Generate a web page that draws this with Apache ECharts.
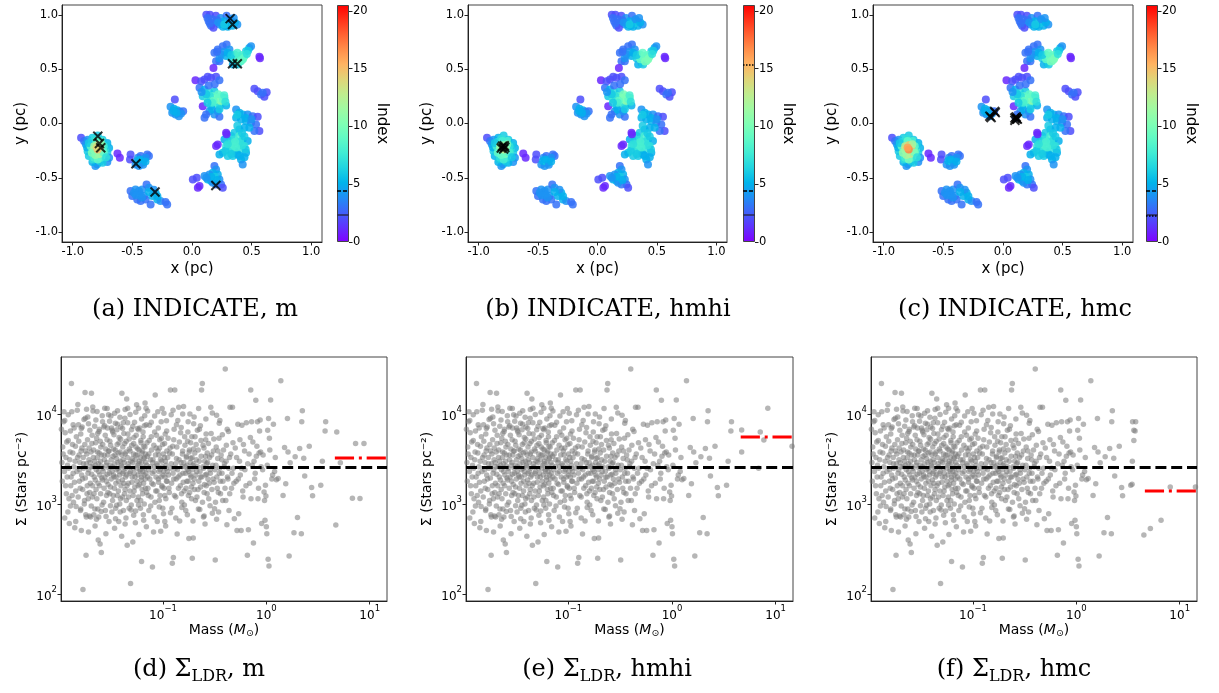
<!DOCTYPE html>
<html><head><meta charset="utf-8">
<script src="https://cdn.jsdelivr.net/npm/echarts@6/dist/echarts.min.js"></script>
<style>html,body{margin:0;padding:0;background:#fff}#c{width:1219px;height:693px}</style>
</head><body><div id="c"></div><script>
// ---------------- DATA ----------------
// Star positions (pc) with INDICATE index for panels a (m), b (hmhi), c (hmc): [x, y, ia, ib, ic]
const clusterLeft = [
 [-0.93,-0.13,2,2,2],[-0.905,-0.16,3,3,3],[-0.89,-0.19,4,4,4],[-0.875,-0.15,4,4,4],[-0.835,-0.13,6,5,6],[-0.79,-0.11,6,6,6],
 [-0.75,-0.15,6,6,6],[-0.71,-0.18,5,5,5],[-0.695,-0.225,5,5,5],[-0.71,-0.27,6,6,6],[-0.695,-0.315,4,4,4],[-0.71,-0.355,4,4,4],
 [-0.75,-0.36,6,5,6],[-0.795,-0.375,5,5,5],[-0.81,-0.39,4,4,4],[-0.835,-0.355,5,5,5],[-0.865,-0.30,6,5,6],[-0.875,-0.255,6,6,6],
 [-0.86,-0.23,8,7,8],[-0.73,-0.24,7,7,8],[-0.77,-0.35,6,6,6],[-0.83,-0.33,7,6,7],[-0.76,-0.16,8,8,8],[-0.84,-0.17,7,7,7],
 [-0.72,-0.20,6,6,6],[-0.88,-0.22,5,5,5],[-0.81,-0.14,7,7,7],
 [-0.85,-0.21,9,8,9],[-0.82,-0.24,12,10,13],[-0.78,-0.27,11,10,12],[-0.75,-0.24,9,8,10],[-0.765,-0.315,8,7,8],[-0.82,-0.315,8,7,8],
 [-0.74,-0.21,8,7,9],[-0.865,-0.18,6,6,6],[-0.80,-0.16,9,8,9],[-0.79,-0.33,9,8,10],
 [-0.79,-0.20,14,12,15],[-0.80,-0.25,15,12,16],[-0.77,-0.23,14,12,15],[-0.82,-0.21,12,11,13],[-0.78,-0.28,12,10,13],
 [-0.76,-0.19,11,10,12],[-0.81,-0.29,11,9,12],[-0.74,-0.27,9,8,10],[-0.84,-0.27,10,9,11],[-0.72,-0.31,7,6,7],
 [-0.79,-0.24,15,13,17],[-0.80,-0.22,14,12,16]
];
const clusterSmallWest = [
 [-0.625,-0.275,1,1,1],[-0.605,-0.315,1,1,1],[-0.515,-0.285,2,2,2],[-0.52,-0.33,2,2,2]
];
const clusterMidWest = [
 [-0.473,-0.377,4,4,4],[-0.453,-0.316,4,4,4],[-0.431,-0.30,3,3,3],[-0.403,-0.331,5,5,5],[-0.375,-0.285,3,3,3],[-0.361,-0.30,3,3,3],
 [-0.417,-0.362,5,5,5],[-0.445,-0.392,4,4,4],[-0.459,-0.346,5,5,5],[-0.389,-0.316,4,4,4],[-0.43,-0.35,6,6,6],[-0.41,-0.38,4,4,4],
 [-0.44,-0.33,5,5,5],[-0.39,-0.35,5,5,5]
];
const clusterSouthWest = [
 [-0.515,-0.622,3,3,3],[-0.501,-0.668,3,3,3],[-0.473,-0.607,4,4,4],[-0.445,-0.622,4,4,4],[-0.417,-0.607,4,4,4],[-0.381,-0.561,3,3,3],
 [-0.361,-0.591,4,4,4],[-0.403,-0.668,4,4,4],[-0.431,-0.714,3,3,3],[-0.459,-0.699,3,3,3],[-0.389,-0.699,3,3,3],[-0.347,-0.744,3,3,3],
 [-0.305,-0.637,5,5,5],[-0.291,-0.699,5,5,5],[-0.264,-0.714,4,4,4],[-0.222,-0.723,3,3,3],[-0.208,-0.744,3,3,3],[-0.333,-0.668,5,5,5],
 [-0.487,-0.637,4,4,4],[-0.44,-0.65,4,4,4],[-0.32,-0.61,4,4,4],[-0.47,-0.66,4,4,4],[-0.42,-0.68,4,4,4],[-0.36,-0.63,5,5,5],[-0.29,-0.67,5,5,5]
];
const clusterCentre = [
 [-0.144,0.221,2,2,2],[-0.18,0.153,4,4,4],[-0.152,0.135,5,5,5],[-0.124,0.123,5,5,5],[-0.102,0.11,4,4,4],[-0.074,0.113,3,3,3],
 [-0.138,0.083,4,4,4],[-0.11,0.067,4,4,4],[-0.166,0.098,4,4,4],[-0.091,0.092,4,4,4],[-0.13,0.10,5,5,5],[-0.155,0.115,5,5,5]
];
const clusterNorth = [
 [0.12,1.00,2,2,2],[0.15,1.00,2,2,2],[0.20,0.99,2,2,2],[0.24,0.97,4,4,4],[0.29,0.99,3,3,3],[0.14,0.94,3,3,3],[0.16,0.90,3,3,3],
 [0.19,0.93,4,4,4],[0.23,0.91,4,4,4],[0.26,0.89,5,5,5],[0.30,0.89,5,5,5],[0.33,0.94,5,5,5],[0.34,0.90,5,5,5],[0.38,0.91,4,4,4],
 [0.27,0.94,5,5,5],[0.31,0.92,6,6,6],[0.13,0.97,3,3,3],[0.17,0.96,3,3,3],[0.21,0.95,3,3,3],[0.25,0.92,5,5,5],[0.28,0.90,5,5,5],
 [0.32,0.96,4,4,4],[0.36,0.93,5,5,5],[0.18,0.88,2,2,2],[0.22,0.93,4,4,4],[0.35,0.97,4,4,4],[0.15,0.92,3,3,3],[0.27,0.91,6,6,6]
];
const clusterNorthEast = [
 [0.188,0.65,3,3,3],[0.216,0.68,3,3,3],[0.258,0.71,3,3,3],[0.29,0.726,3,3,3],[0.314,0.68,4,4,4],[0.244,0.634,4,4,4],[0.286,0.62,5,5,5],
 [0.202,0.573,3,3,3],[0.23,0.573,3,3,3],[0.328,0.60,6,6,6],[0.356,0.634,8,8,8],[0.397,0.60,9,10,10],[0.37,0.557,7,8,8],[0.41,0.573,8,9,9],
 [0.44,0.62,8,8,8],[0.453,0.665,6,6,6],[0.48,0.695,5,5,5],[0.495,0.71,4,4,4],[0.342,0.543,5,5,5],[0.384,0.543,6,6,6],[0.425,0.588,9,10,10],
 [0.565,0.613,1,1,1],[0.57,0.60,1,1,1],[0.18,0.51,1,1,1],[0.39,0.62,10,11,11],[0.36,0.59,8,9,9],[0.42,0.63,8,9,9],[0.27,0.66,4,4,4],[0.47,0.67,6,6,6],
 [0.30,0.65,5,5,5],[0.33,0.63,6,6,6],[0.40,0.57,9,10,10],[0.43,0.60,9,10,10],[0.38,0.65,8,9,9],[0.46,0.64,7,7,7],[0.23,0.60,4,4,4],[0.21,0.66,3,3,3]
];
const clusterInner = [
 [0.029,0.398,1,1,1],[0.077,0.389,2,2,2],[0.105,0.404,2,2,2],[0.132,0.429,2,2,2],[0.16,0.42,2,2,2],[0.202,0.429,2,2,2],[0.23,0.398,3,3,3],
 [0.063,0.328,3,3,3],[0.105,0.312,5,5,5],[0.146,0.282,7,7,7],[0.188,0.297,6,6,6],[0.09,0.251,6,6,6],[0.132,0.22,8,8,8],[0.174,0.251,9,9,9],
 [0.216,0.236,10,11,10],[0.244,0.251,9,10,9],[0.272,0.236,7,8,7],[0.258,0.19,8,9,8],[0.202,0.19,9,10,9],[0.16,0.159,6,6,6],[0.23,0.159,7,7,7],
 [0.286,0.165,5,5,5],[0.09,0.159,1,1,1],[0.146,0.113,4,4,4],[0.118,0.083,3,3,3],[0.105,0.052,3,3,3],[0.188,0.083,4,4,4],[0.23,0.061,3,3,3],
 [0.169,0.129,5,5,5],[0.216,0.113,4,4,4],[0.24,0.21,11,11,11],[0.20,0.22,10,10,10],[0.15,0.25,7,7,7],[0.12,0.27,6,6,6],[0.26,0.22,9,9,9],
 [0.18,0.21,9,9,9],[0.22,0.27,9,10,9],[0.17,0.19,8,8,8],[0.13,0.19,6,6,6],[0.27,0.26,8,8,8],[0.08,0.29,4,4,4],[0.19,0.36,3,3,3],
 [0.14,0.35,3,3,3],[0.23,0.13,6,6,6],[0.28,0.20,7,7,7]
];
const clusterEast = [
 [0.523,0.319,2,2,2],[0.551,0.297,2,2,2],[0.579,0.267,3,3,3],[0.607,0.245,2,2,2],[0.626,0.288,2,2,2],[0.593,0.282,3,3,3]
];
const clusterSouthEast = [
 [0.37,0.129,4,4,4],[0.397,0.098,5,5,5],[0.425,0.083,5,5,5],[0.467,0.083,4,4,4],[0.509,0.067,3,3,3],[0.551,0.061,2,2,2],[0.37,0.052,5,5,5],
 [0.411,0.037,5,5,5],[0.453,0.021,5,5,5],[0.495,0.006,4,4,4],[0.537,-0.009,3,3,3],[0.565,-0.07,2,2,2],[0.523,-0.07,3,3,3],[0.481,-0.04,5,5,5],
 [0.439,-0.04,5,5,5],[0.397,-0.055,5,5,5],[0.356,-0.086,6,6,6],[0.328,-0.116,6,6,6],[0.286,-0.086,1,1,1],[0.272,-0.147,5,5,5],[0.314,-0.162,6,6,6],
 [0.356,-0.147,7,7,7],[0.397,-0.116,8,8,8],[0.425,-0.147,7,7,7],[0.467,-0.162,5,5,5],[0.439,-0.208,7,7,7],[0.397,-0.239,7,7,7],[0.356,-0.254,6,6,6],
 [0.328,-0.224,8,8,8],[0.286,-0.208,7,7,7],[0.258,-0.27,6,6,6],[0.23,-0.285,5,5,5],[0.30,-0.30,6,6,6],[0.342,-0.30,6,6,6],[0.384,-0.285,5,5,5],
 [0.411,-0.331,5,5,5],[0.425,-0.377,4,4,4],[0.453,-0.27,5,5,5],[0.216,-0.193,1,1,1],[0.202,-0.208,1,1,1],[0.29,-0.10,1,1,1],[0.40,-0.17,7,7,7],
 [0.42,-0.09,6,6,6],[0.31,-0.26,7,7,7],[0.35,-0.20,8,8,8],[0.44,-0.12,6,6,6],[0.45,-0.24,6,6,6],
 [0.38,0.08,6,6,6],[0.45,0.05,5,5,5],[0.38,-0.02,6,6,6],[0.42,-0.20,7,7,7],[0.37,-0.22,8,8,8],[0.33,-0.28,6,6,6],[0.28,-0.25,6,6,6],
 [0.40,-0.30,5,5,5],[0.44,-0.31,5,5,5],[0.36,-0.17,8,8,8],[0.30,-0.19,7,7,7],[0.50,0.04,4,4,4]
];
const clusterSouth = [
 [0.007,-0.515,2,2,2],[0.04,-0.50,2,2,2],[0.063,-0.576,1,1,1],[0.049,-0.591,1,1,1],[0.105,-0.484,4,4,4],[0.132,-0.515,5,5,5],[0.16,-0.53,5,5,5],
 [0.188,-0.392,3,3,3],[0.202,-0.423,4,4,4],[0.216,-0.469,5,5,5],[0.174,-0.453,5,5,5],[0.146,-0.469,4,4,4],[0.23,-0.515,4,4,4],[0.244,-0.561,3,3,3],
 [0.258,-0.591,2,2,2],[0.202,-0.561,3,3,3],[0.174,-0.545,4,4,4],[0.19,-0.49,6,6,6],[0.16,-0.49,5,5,5],[0.21,-0.52,5,5,5],[0.12,-0.50,4,4,4]
];
// Stars flagged by each INDICATE run (black crosses)
const flaggedA = [[0.32,0.965],[0.34,0.91],[0.34,0.55],[0.38,0.55],[-0.79,-0.117],[-0.776,-0.184],[-0.765,-0.223],[-0.47,-0.37],[-0.31,-0.63],[0.20,-0.57]];
const flaggedB = [[-0.80,-0.21],[-0.78,-0.22],[-0.79,-0.235],[-0.81,-0.225],[-0.785,-0.205]];
const flaggedC = [[-0.11,0.067],[-0.10,0.055],[-0.07,0.11],[-0.065,0.10],[0.10,0.05],[0.12,0.04],[0.11,0.06],[0.10,0.03],[0.115,0.045]];
// Colourbar reference levels of the index
const cbarDashed = [4.45, 4.45, 4.45];
const cbarSolid = [2.35, 2.35, 2.35];
const cbarDotted = [null, 15.3, 2.28];

// Sigma_LDR (stars pc^-2) vs mass (Msun): [mass, sigma]
const ldrBand1 = [[0.0104,6800],[0.0105,2900],[0.0106,1800],[0.0107,4300],[0.011,10600],[0.0112,8500],[0.0113,6200],[0.0115,3300],[0.0116,1300],
 [0.0118,2000],[0.012,820],[0.0121,5100],[0.0122,2500],[0.0124,610],[0.0126,3800],[0.0128,1600],[0.013,21900],[0.0131,10600],[0.0133,4600],
 [0.0135,2200],[0.0136,1050],[0.0138,7000],[0.014,545],[0.0141,3000],[0.0143,1400],[0.0145,5600]];
const ldrBand2 = [[0.015,12800],[0.0152,7600],[0.0154,3500],[0.0156,2400],[0.0158,1500],[0.016,6000],[0.0162,510],[0.0164,4200],[0.0166,1900],
 [0.0168,113],[0.017,2800],[0.0172,8700],[0.0174,1100],[0.0176,17300],[0.0178,3900],[0.018,270],[0.0182,11300],[0.0184,1300],[0.0186,5200],
 [0.0188,2200],[0.019,490],[0.0192,3100],[0.0194,740],[0.0196,6600],[0.0198,1700],[0.02,2600]];
const ldrBand3 = [[0.0203,17000],[0.0205,4700],[0.0207,1200],[0.021,10800],[0.0212,3300],[0.0214,760],[0.0216,2000],[0.0218,7300],[0.022,570],
 [0.0222,2700],[0.0225,1450],[0.0228,5400],[0.023,10700],[0.0232,3800],[0.0234,880],[0.0236,400],[0.0238,2300],[0.024,6400],[0.0243,1600],
 [0.0246,360],[0.0248,3000],[0.025,4300],[0.0253,290],[0.0256,1950],[0.026,8200],[0.0263,2500],[0.0266,1050],[0.027,3500],[0.0273,11600],
 [0.0276,5800],[0.028,470],[0.0283,1800],[0.0286,2900],[0.029,7000],[0.0293,1350],[0.0296,3900],[0.03,640]];
const ldrBand4 = [[0.0303,2200],[0.0306,5000],[0.031,1550],[0.0313,9500],[0.0316,3100],[0.032,820],[0.0323,2600],[0.0326,6300],[0.033,1250],
 [0.0333,4100],[0.0336,2000],[0.034,540],[0.0343,3500],[0.0346,7900],[0.035,1700],[0.0353,2400],[0.0356,970],[0.036,4600],[0.0363,10900],
 [0.0366,2900],[0.037,1400],[0.0373,640],[0.0376,5500],[0.038,2100],[0.0384,3800],[0.0388,1150],[0.039,7200],[0.0394,2700],[0.0398,440],
 [0.04,17000],[0.0404,1850],[0.0408,4300],[0.041,3100],[0.0414,850],[0.0418,6100],[0.042,2300],[0.0424,1300],[0.0428,9000],[0.043,3600],
 [0.0434,2000],[0.0438,700],[0.044,5000],[0.0445,14700],[0.0448,1600]];
const ldrBand5 = [[0.045,350],[0.0455,11600],[0.046,2800],[0.0465,1200],[0.047,5300],[0.0475,2200],[0.048,3900],[0.0485,131],[0.049,860],
 [0.0495,6700],[0.05,1750],[0.0505,3200],[0.051,380],[0.0515,2500],[0.052,4700],[0.0525,1400],[0.053,8100],[0.0535,2000],[0.054,620],
 [0.0545,3500],[0.055,5800],[0.0555,12700],[0.056,1100],[0.0565,2700],[0.057,4100],[0.0575,1600],[0.058,11600],[0.0585,460],[0.059,3000],
 [0.0595,7000],[0.06,2300],[0.0605,900],[0.061,5100],[0.0615,1850],[0.062,230],[0.0625,3700],[0.063,2550],[0.0635,1300],[0.064,6300],
 [0.0645,760],[0.065,4400],[0.0655,2100],[0.066,3300],[0.0665,9600],[0.067,13300],[0.0675,1500],[0.068,2900],[0.0685,11600],[0.069,560]];
const ldrBand6 = [[0.07,4800],[0.071,2000],[0.072,1250],[0.073,3600],[0.074,7500],[0.075,2600],[0.076,950],[0.077,5600],[0.078,1700],
 [0.079,200],[0.08,3100],[0.081,490],[0.082,2300],[0.083,6300],[0.084,16300],[0.085,1400],[0.086,4200],[0.087,2800],[0.088,640],[0.089,10600],
 [0.09,1900],[0.091,3500],[0.092,1100],[0.093,5200],[0.094,2400],[0.095,500],[0.096,8200],[0.097,3000],[0.098,1550],[0.099,4600],[0.1,2100],
 [0.101,780],[0.102,10200],[0.103,3300],[0.104,1250],[0.105,6000],[0.106,570],[0.107,2700],[0.108,1800],[0.109,3900]];
const ldrBand7 = [[0.11,2300],[0.112,5400],[0.114,1500],[0.116,3700],[0.118,18500],[0.12,2800],[0.122,900],[0.123,220],[0.124,4400],
 [0.125,11000],[0.126,255],[0.127,1900],[0.128,6800],[0.13,18500],[0.131,2500],[0.133,1200],[0.135,3200],[0.137,465],[0.139,8500],[0.14,2000],
 [0.142,11900],[0.144,4900],[0.145,650],[0.147,1600],[0.149,2900],[0.15,7100],[0.152,1050],[0.154,3600],[0.156,2200],[0.158,12100],[0.16,1400],
 [0.162,5600],[0.164,2600],[0.166,850],[0.168,3300],[0.17,1800]];
const ldrBand8 = [[0.172,2400],[0.174,6300],[0.176,1250],[0.178,415],[0.18,4000],[0.182,10000],[0.184,2100],[0.186,3200],[0.188,1550],
 [0.19,5600],[0.192,250],[0.194,2700],[0.196,420],[0.198,7800],[0.2,1900],[0.203,3700],[0.206,1100],[0.209,4600],[0.212,2300],[0.215,6600],
 [0.218,1450],[0.221,11500],[0.224,3000],[0.227,870],[0.23,2000],[0.233,5100],[0.236,18500],[0.24,21900],[0.243,2600],[0.246,720],[0.249,4200],
 [0.252,1650],[0.255,600],[0.258,3400],[0.261,6000],[0.264,2150],[0.267,1300],[0.27,2900]];
const ldrBand9 = [[0.275,4700],[0.28,1700],[0.285,2400],[0.29,11900],[0.295,3500],[0.3,790],[0.305,1900],[0.31,5300],[0.315,890],[0.32,240],
 [0.325,2700],[0.33,9700],[0.335,1500],[0.34,3900],[0.345,820],[0.35,2200],[0.355,8500],[0.36,1300],[0.37,3100],[0.375,5900],[0.38,1800],
 [0.39,2600],[0.4,31600],[0.405,1100],[0.41,4500],[0.415,590],[0.42,2000],[0.43,6400],[0.435,850],[0.44,3300],[0.445,11900]];
const ldrBand10 = [[0.46,1500],[0.47,11900],[0.48,2500],[0.49,690],[0.5,4200],[0.51,1800],[0.52,510],[0.53,7700],[0.54,780],[0.55,3000],
 [0.56,2100],[0.57,510],[0.58,7500],[0.59,1400],[0.6,4600],[0.62,2400],[0.64,8000],[0.655,270],[0.67,520],[0.68,3600],[0.69,1700],
 [0.706,18500],[0.72,8200],[0.73,2700],[0.75,370],[0.74,4900]];
const ldrBand11 = [[0.77,1900],[0.79,14200],[0.8,3400],[0.82,8200],[0.83,1150],[0.85,3700],[0.87,8600],[0.88,3800],[0.9,610],[0.92,2400],
 [0.95,1360],[0.97,660],[0.98,1620],[0.99,1230],[1.0,560],[1.01,470],[1.03,6600],[1.04,245],[1.05,8900],[1.06,205],[1.07,5400],[1.1,14300],
 [1.13,1900],[1.17,7700]];
const ldrBand12 = [[1.2,2300],[1.25,1870],[1.3,1920],[1.38,23400],[1.45,1250],[1.5,4250],[1.54,1680],[1.6,8950],[1.62,3800],[1.66,265],
 [1.7,2880],[1.85,480],[1.9,3350],[2.0,710],[2.1,4150],[2.18,470],[2.2,8200],[2.23,10900],[2.3,3230],[2.35,2050],[2.6,4400],[2.74,1530],
 [2.8,1240],[3.36,1620],[3.48,2990],[3.7,6500],[3.75,8200]];
// the crowded core of the cloud
const ldrDense1 = [[0.0108,3600],[0.0111,2300],[0.0114,1600],[0.0117,4900],[0.0119,2700],[0.0123,1150],[0.0125,3100],[0.0127,6500],[0.0129,2000],
 [0.0132,1250],[0.0134,3700],[0.0137,2600],[0.0139,1750],[0.0142,4400],[0.0144,940],[0.0147,2300],[0.0149,3300],[0.0151,1200],[0.0153,5000],
 [0.0155,1800],[0.0157,2900],[0.0159,850],[0.0161,3900],[0.0163,2100],[0.0165,7200],[0.0167,1450],[0.0169,3300],[0.0171,2500],[0.0173,1000],
 [0.0175,4600],[0.0177,1950],[0.0179,760],[0.0181,2800],[0.0183,3600],[0.0185,1600],[0.0187,9300],[0.0189,1150],[0.0191,2400],[0.0193,4200],
 [0.0195,1350],[0.0197,2900],[0.0199,720],[0.0201,3800],[0.0204,2150],[0.0206,5800],[0.0208,1600],[0.0211,2600],[0.0213,4000],[0.0215,1300],
 [0.0217,3000],[0.0219,880],[0.0221,1850],[0.0223,4800],[0.0226,2400],[0.0229,1150],[0.0231,3300],[0.0233,6100],[0.0235,1700],[0.0237,2800],
 [0.0239,720],[0.0241,3700],[0.0244,2100],[0.0247,5000],[0.0249,1300],[0.0251,2650],[0.0254,3500],[0.0257,980],[0.0259,1850],[0.0261,4600],
 [0.0264,2300],[0.0267,7200],[0.0269,1500],[0.0271,3100],[0.0274,2000],[0.0277,850],[0.0279,4100],[0.0281,2700],[0.0284,1250],[0.0287,5200],
 [0.0289,2150],[0.0291,3500],[0.0294,1650],[0.0297,9800],[0.0299,2500]];
const ldrDense2 = [[0.0301,3900],[0.0305,1300],[0.0308,2700],[0.0311,4500],[0.0315,1900],[0.0318,7000],[0.0321,2300],[0.0325,1100],[0.0328,3400],
 [0.0331,2100],[0.0335,5900],[0.0338,1500],[0.0341,2800],[0.0345,4000],[0.0348,900],[0.0351,2000],[0.0355,3200],[0.0358,6700],[0.0361,1250],
 [0.0365,2500],[0.0368,3700],[0.0371,1800],[0.0375,4800],[0.0378,2300],[0.0381,1000],[0.0385,3000],[0.0389,5300],[0.0392,1600],[0.0396,2600],
 [0.0401,3500],[0.0405,1200],[0.0409,2200],[0.0412,8000],[0.0416,1700],[0.0421,2900],[0.0425,4700],[0.0429,1450],[0.0433,2500],[0.0437,3800],
 [0.0441,1100],[0.0446,2100],[0.0452,3300],[0.0457,6000],[0.0462,1700],[0.0467,2600],[0.0472,4100],[0.0478,1400],[0.0483,2300],[0.0488,3000],
 [0.0493,980],[0.0498,4500],[0.0503,2000],[0.0508,2900],[0.0513,1250],[0.0518,3600],[0.0523,5500],[0.0528,2200],[0.0533,1550],[0.0538,3100],
 [0.0543,840],[0.0548,4300],[0.0553,2500],[0.0558,1800],[0.0563,3500],[0.0568,6900],[0.0573,2100],[0.0578,1200],[0.0583,2800],[0.0588,4000],
 [0.0593,1650],[0.0598,2400],[0.0603,3300],[0.0608,1100],[0.0613,4800],[0.0618,2000],[0.0623,2900],[0.0628,1450],[0.0633,3900],[0.0638,2300],
 [0.0643,5600],[0.0648,1700],[0.0653,3200],[0.0658,1000],[0.0663,2500],[0.0668,4300],[0.0673,1900],[0.0678,3600],[0.0683,2200],[0.0688,7600],
 [0.0693,1350],[0.0697,2700]];
const ldrDense3 = [[0.0705,3400],[0.0715,1500],[0.0725,2400],[0.0735,5100],[0.0745,1900],[0.0755,3100],[0.0765,1200],[0.0775,4000],[0.0785,2200],
 [0.0795,2900],[0.0805,1650],[0.0815,4500],[0.0825,2600],[0.0835,1050],[0.0845,3500],[0.0855,2000],[0.0865,5800],[0.0875,1400],[0.0885,2700],
 [0.0895,3900],[0.0905,1750],[0.0915,2300],[0.0925,4200],[0.0935,1250],[0.0945,3100],[0.0955,2000],[0.0965,5400],[0.0975,1600],[0.0985,2600],
 [0.0995,900],[0.1005,3600],[0.1015,2300],[0.1025,1500],[0.1035,4700],[0.1045,2000],[0.1055,3000],[0.1065,1150],[0.1075,2500],[0.1085,6500],
 [0.1095,1800],[0.111,3300],[0.113,2100],[0.115,1350],[0.117,4200],[0.119,2500],[0.121,1700],[0.123,3600],[0.125,2200],[0.127,5200],[0.129,1250],
 [0.132,2800],[0.134,1900],[0.136,4300],[0.138,2400],[0.141,1500],[0.143,3100],[0.146,2100],[0.148,6200],[0.151,1300],[0.153,2600],[0.155,3900],
 [0.157,1750],[0.159,2900],[0.161,980],[0.163,4500],[0.165,2200],[0.167,1500],[0.169,3400],[0.171,2700],[0.173,5000],[0.175,1800],[0.177,2300],
 [0.179,3800]];
const ldrDense4 = [[0.181,1350],[0.183,2900],[0.185,4800],[0.187,2000],[0.189,1150],[0.191,3300],[0.193,2400],[0.195,1700],[0.197,4100],[0.199,2800],
 [0.201,1450],[0.204,5600],[0.207,2100],[0.21,3100],[0.213,1200],[0.216,2600],[0.219,4000],[0.222,1800],[0.225,6800],[0.228,2300],[0.231,1550],
 [0.234,3400],[0.237,2000],[0.241,1050],[0.244,4500],[0.247,2500],[0.25,1350],[0.253,3000],[0.256,2100],[0.259,5200],[0.262,1600],[0.265,2800],
 [0.268,3700],[0.272,1900],[0.277,1150],[0.282,3300],[0.287,2200],[0.292,6100],[0.297,1450],[0.302,2700],[0.307,3900],[0.312,1750],[0.317,2400],
 [0.322,1050],[0.327,4300],[0.332,2000],[0.338,3200],[0.343,1350],[0.348,5400],[0.353,2500],[0.358,1800],[0.365,3500],[0.372,2200],[0.378,1100],
 [0.385,4000],[0.393,2800],[0.398,1500],[0.408,3000],[0.418,6800],[0.425,1900],[0.433,2500],[0.442,1300],[0.452,3600],[0.465,2200],[0.475,4800],
 [0.485,1700]];
const ldrDense5 = [[0.515,3300],[0.535,1900],[0.555,5200],[0.575,2500],[0.595,1200],[0.615,3900],[0.635,1600],[0.66,2800],[0.7,5500],[0.71,1150],
 [0.76,3000],[0.78,2200],[0.81,4400],[0.84,1500],[0.86,6500],[0.89,2600],[0.93,3500],[0.96,1100],[1.02,2700],[1.08,4000],[1.15,2100],[1.22,3300]];
const ldrUpper = [[0.0109,8200],[0.0121,9800],[0.0135,7600],[0.0148,11000],[0.0162,6900],[0.0177,9000],[0.019,7800],[0.0209,12000],[0.0224,8600],
 [0.0242,6800],[0.0258,9600],[0.0272,7400],[0.0288,11500],[0.0304,8300],[0.0322,6600],[0.034,10200],[0.0362,7700],[0.0383,9200],[0.0406,6900],
 [0.043,11200],[0.0455,8000],[0.048,9900],[0.051,7300],[0.0545,10500],[0.058,6700],[0.062,8800],[0.066,7400],[0.071,10800],[0.077,8100],
 [0.083,9500],[0.09,7000],[0.098,11500],[0.108,8400],[0.12,9800],[0.135,7600],[0.155,10000],[0.175,8200],[0.2,9300],[0.23,7400],[0.26,8800],
 [0.3,10300],[0.35,7900]];
const ldrLower = [[0.0112,700],[0.0127,950],[0.0143,640],[0.016,880],[0.0181,720],[0.0202,950],[0.0227,680],[0.0252,830],[0.0281,730],[0.031,960],
 [0.0347,690],[0.0385,820],[0.043,600],[0.047,900],[0.052,750],[0.058,980],[0.065,660],[0.073,850],[0.082,720],[0.092,930],[0.104,640],[0.118,800],
 [0.133,700],[0.152,920],[0.172,760],[0.195,650],[0.22,880],[0.25,740],[0.285,960],[0.33,680]];
// most massive stars differ between the three runs
const massiveD = [[4.7,585],[4.8,6340],[5.2,2880],[6.8,1160],[7.3,4720],[8.05,1155],[8.8,4720],[14.8,5000]];
const massiveE = [[4.7,3800],[4.7,6650],[7.1,6300],[7.7,5150],[8.4,11600],[14.4,4400],[6.85,2500]];
const massiveF = [[3.6,6600],[3.5,8200],[3.6,5100],[3.46,1660],[4.5,453],[5.2,537],[6.6,664],[8.1,1550],[14.2,1550]];
const meanSigma = 2550;              // black dashed line
const ldrSigma = [3250, 5550, 1395]; // red dash-dot line (d, e, f)
const ldrMassMin = 4.6;

// axis ranges & ticks
const posRange = [-1.09, 1.09];
const posTicks = [-1, -0.5, 0, 0.5, 1];
const indexRange = [0, 20.5];
const indexTicks = [0, 5, 10, 15, 20];
const massRange = [0.0103, 14.7];
const sigmaRange = [84, 43000];
const massTicks = [0.1, 1, 10];
const sigmaTicks = [100, 1000, 10000];
const topCaptions = ['(a) INDICATE, m', '(b) INDICATE, hmhi', '(c) INDICATE, hmc'];
const bottomCaptions = [['(d) ', ', m'], ['(e) ', ', hmhi'], ['(f) ', ', hmc']];

// ---------------- STYLE / LAYOUT ----------------
const rainbow = ['#8000ff','#6032fe','#4062fa','#208ef4','#00b4eb','#20d4e1','#40ecd4','#60fac5','#80ffb4',
 '#a0faa2','#c0ec8e','#e0d478','#ffb462','#ff8e4a','#ff6232','#ff3219','#ff0000'];
const FONT = 'DejaVu Sans';
const SERIF = 'DejaVu Serif';
const topLayout = [{left:62,width:260,cb:337},{left:468,width:259,cb:743},{left:873,width:260,cb:1146}];
const TOP_T = 5, TOP_H = 237, CB_W = 12;
const botLayout = [{left:61,width:326},{left:466,width:327},{left:871,width:326}];
const BOT_T = 357, BOT_H = 244;
const capTopX = [195, 608, 1015], capBotX = [199, 607, 1014];

const allStars = [].concat(clusterLeft, clusterSmallWest, clusterMidWest, clusterSouthWest, clusterCentre,
  clusterNorth, clusterNorthEast, clusterInner, clusterEast, clusterSouthEast, clusterSouth);
const ldrShared = [].concat(ldrBand1, ldrBand2, ldrBand3, ldrBand4, ldrBand5, ldrBand6, ldrBand7, ldrBand8,
  ldrBand9, ldrBand10, ldrBand11, ldrBand12, ldrDense1, ldrDense2, ldrDense3, ldrDense4, ldrDense5, ldrUpper, ldrLower);
const flagged = [flaggedA, flaggedB, flaggedC];
const massive = [massiveD, massiveE, massiveF];

const grids = [], xAxis = [], yAxis = [], series = [], graphic = [];
const topScatterIdx = [];
const axisLineStyle = {show:true, onZero:false, lineStyle:{color:'#222', width:1}};
const tickStyle = {show:true, length:3.5, lineStyle:{color:'#222', width:1}};
const labelBase = {fontFamily:FONT, fontSize:11.5, color:'#000', margin:4};
const nameStyle = {fontFamily:FONT, fontSize:15, color:'#000'};
const stops = rainbow.map((c,i)=>({offset:i/(rainbow.length-1), color:c}));

topLayout.forEach((L, k) => {
  const gi = grids.length;
  grids.push({left:L.left, top:TOP_T, width:L.width, height:TOP_H, show:true, borderColor:'#444', borderWidth:1, containLabel:false});
  xAxis.push({gridIndex:gi, type:'value', min:posRange[0], max:posRange[1], splitLine:{show:false},
    axisLine:axisLineStyle, axisTick:Object.assign({customValues:posTicks}, tickStyle),
    axisLabel:Object.assign({customValues:posTicks, formatter:v=>v.toFixed(1)}, labelBase),
    name:'x (pc)', nameLocation:'middle', nameGap:20, nameTextStyle:nameStyle});
  yAxis.push({gridIndex:gi, type:'value', min:posRange[0], max:posRange[1], splitLine:{show:false},
    axisLine:axisLineStyle, axisTick:Object.assign({customValues:posTicks}, tickStyle),
    axisLabel:Object.assign({customValues:posTicks, formatter:v=>v.toFixed(1)}, labelBase),
    name:'y (pc)', nameLocation:'middle', nameGap:33, nameRotate:90, nameTextStyle:nameStyle});
  topScatterIdx.push(series.length);
  series.push({type:'scatter', xAxisIndex:gi, yAxisIndex:gi, symbolSize:8, silent:true,
    itemStyle:{opacity:0.85}, data: allStars.map(r => [r[0], r[1], r[2+k]])});
  series.push({type:'scatter', xAxisIndex:gi, yAxisIndex:gi, symbol:'path://M0,0L10,10M10,0L0,10', symbolSize:9, silent:true, z:5,
    itemStyle:{color:'none', borderColor:'#000', borderWidth:2}, data: flagged[k]});
  const ci = grids.length;
  grids.push({left:L.cb, top:TOP_T, width:CB_W, height:TOP_H, show:false});
  xAxis.push({gridIndex:ci, type:'category', data:['cb'], show:false});
  yAxis.push({gridIndex:ci, type:'value', position:'right', min:indexRange[0], max:indexRange[1], splitLine:{show:false},
    axisLine:{show:false}, axisTick:Object.assign({customValues:indexTicks}, tickStyle),
    axisLabel:Object.assign({customValues:indexTicks}, labelBase),
    name:'Index', nameLocation:'middle', nameGap:25, nameRotate:-90, nameTextStyle:nameStyle});
  const ml = [];
  ml.push({yAxis:cbarDashed[k], lineStyle:{color:'#000', type:[4,2], width:1.5}});
  ml.push({yAxis:cbarSolid[k], lineStyle:{color:'#2a2a55', type:'solid', width:1.5}});
  if (cbarDotted[k] !== null) ml.push({yAxis:cbarDotted[k], lineStyle:{color:'#000', type:[1.5,1.5], width:1.5}});
  series.push({type:'bar', xAxisIndex:ci, yAxisIndex:ci, barWidth:'100%', silent:true, data:[indexRange[1]],
    itemStyle:{color:new echarts.graphic.LinearGradient(0,1,0,0,stops), borderColor:'#444', borderWidth:1},
    markLine:{silent:true, symbol:['none','none'], label:{show:false}, data:ml}});
  graphic.push({type:'text', x:capTopX[k], y:310, style:{text:topCaptions[k], fontFamily:SERIF, fontSize:24, fill:'#000',
    textAlign:'center', textVerticalAlign:'middle'}});
});

const logLabel = v => { const e = Math.round(Math.log10(v)); return '{b|10}{e|' + String(e).replace('-', '\u2212') + '}'; };
const logRich = {b:{fontFamily:FONT, fontSize:12, color:'#000', lineHeight:18, verticalAlign:'bottom'},
                 e:{fontFamily:FONT, fontSize:8.5, color:'#000', lineHeight:18, verticalAlign:'top'}};

botLayout.forEach((L, k) => {
  const gi = grids.length;
  grids.push({left:L.left, top:BOT_T, width:L.width, height:BOT_H, show:true, borderColor:'#444', borderWidth:1});
  xAxis.push({gridIndex:gi, type:'log', logBase:10, min:massRange[0], max:massRange[1], splitLine:{show:false},
    axisLine:axisLineStyle, axisTick:Object.assign({customValues:massTicks}, tickStyle),
    axisLabel:Object.assign({customValues:massTicks, formatter:logLabel, rich:logRich}, labelBase, {margin:3}),
    name:'{n|Mass (}{i|M}{s|\u2299}{n|)}', nameLocation:'middle', nameGap:20,
    nameTextStyle:Object.assign({rich:{n:{fontFamily:FONT,fontSize:14,color:'#000',lineHeight:18},
      i:{fontFamily:FONT,fontSize:14,fontStyle:'italic',color:'#000',lineHeight:18},
      s:{fontFamily:FONT,fontSize:9.5,color:'#000',lineHeight:18,verticalAlign:'bottom'}}}, nameStyle)});
  yAxis.push({gridIndex:gi, type:'log', logBase:10, min:sigmaRange[0], max:sigmaRange[1], splitLine:{show:false},
    axisLine:axisLineStyle, axisTick:Object.assign({customValues:sigmaTicks}, tickStyle),
    axisLabel:Object.assign({customValues:sigmaTicks, formatter:logLabel, rich:logRich}, labelBase),
    name:'\u03A3 (Stars pc\u207B\u00B2)', nameLocation:'middle', nameGap:32, nameRotate:90,
    nameTextStyle:Object.assign({}, nameStyle, {fontSize:14})});
  series.push({type:'scatter', xAxisIndex:gi, yAxisIndex:gi, symbolSize:5.5, silent:true,
    itemStyle:{color:'#7a7a7a', opacity:0.55}, data: ldrShared.concat(massive[k])});
  series.push({type:'line', xAxisIndex:gi, yAxisIndex:gi, symbol:'none', silent:true, z:4, clip:true,
    lineStyle:{color:'#000', width:3, type:[11,4.8], cap:'butt'}, data:[[massRange[0], meanSigma],[massRange[1], meanSigma]]});
  series.push({type:'line', xAxisIndex:gi, yAxisIndex:gi, symbol:'none', silent:true, z:5, clip:true,
    lineStyle:{color:'#ff0000', width:3, type:[19.2,4.8,3,4.8], cap:'butt'}, data:[[ldrMassMin, ldrSigma[k]],[massRange[1], ldrSigma[k]]]});
  graphic.push({type:'text', x:capBotX[k], y:670, style:{
    text:'{n|' + bottomCaptions[k][0] + '\u03A3}{s|LDR}{n|' + bottomCaptions[k][1] + '}', textAlign:'center', textVerticalAlign:'middle',
    rich:{n:{fontFamily:SERIF, fontSize:24, fill:'#000', color:'#000', lineHeight:30},
          s:{fontFamily:SERIF, fontSize:16, fill:'#000', color:'#000', lineHeight:30, verticalAlign:'bottom'}}}});
});

const chart = echarts.init(document.getElementById('c'), null, {renderer:'canvas'});
chart.setOption({
  animation:false, backgroundColor:'#fff',
  grid:grids, xAxis:xAxis, yAxis:yAxis, series:series, graphic:graphic,
  visualMap:[{type:'continuous', show:false, min:indexRange[0], max:indexRange[1], dimension:2,
    seriesIndex:topScatterIdx, inRange:{color:rainbow}}]
});
</script></body></html>
